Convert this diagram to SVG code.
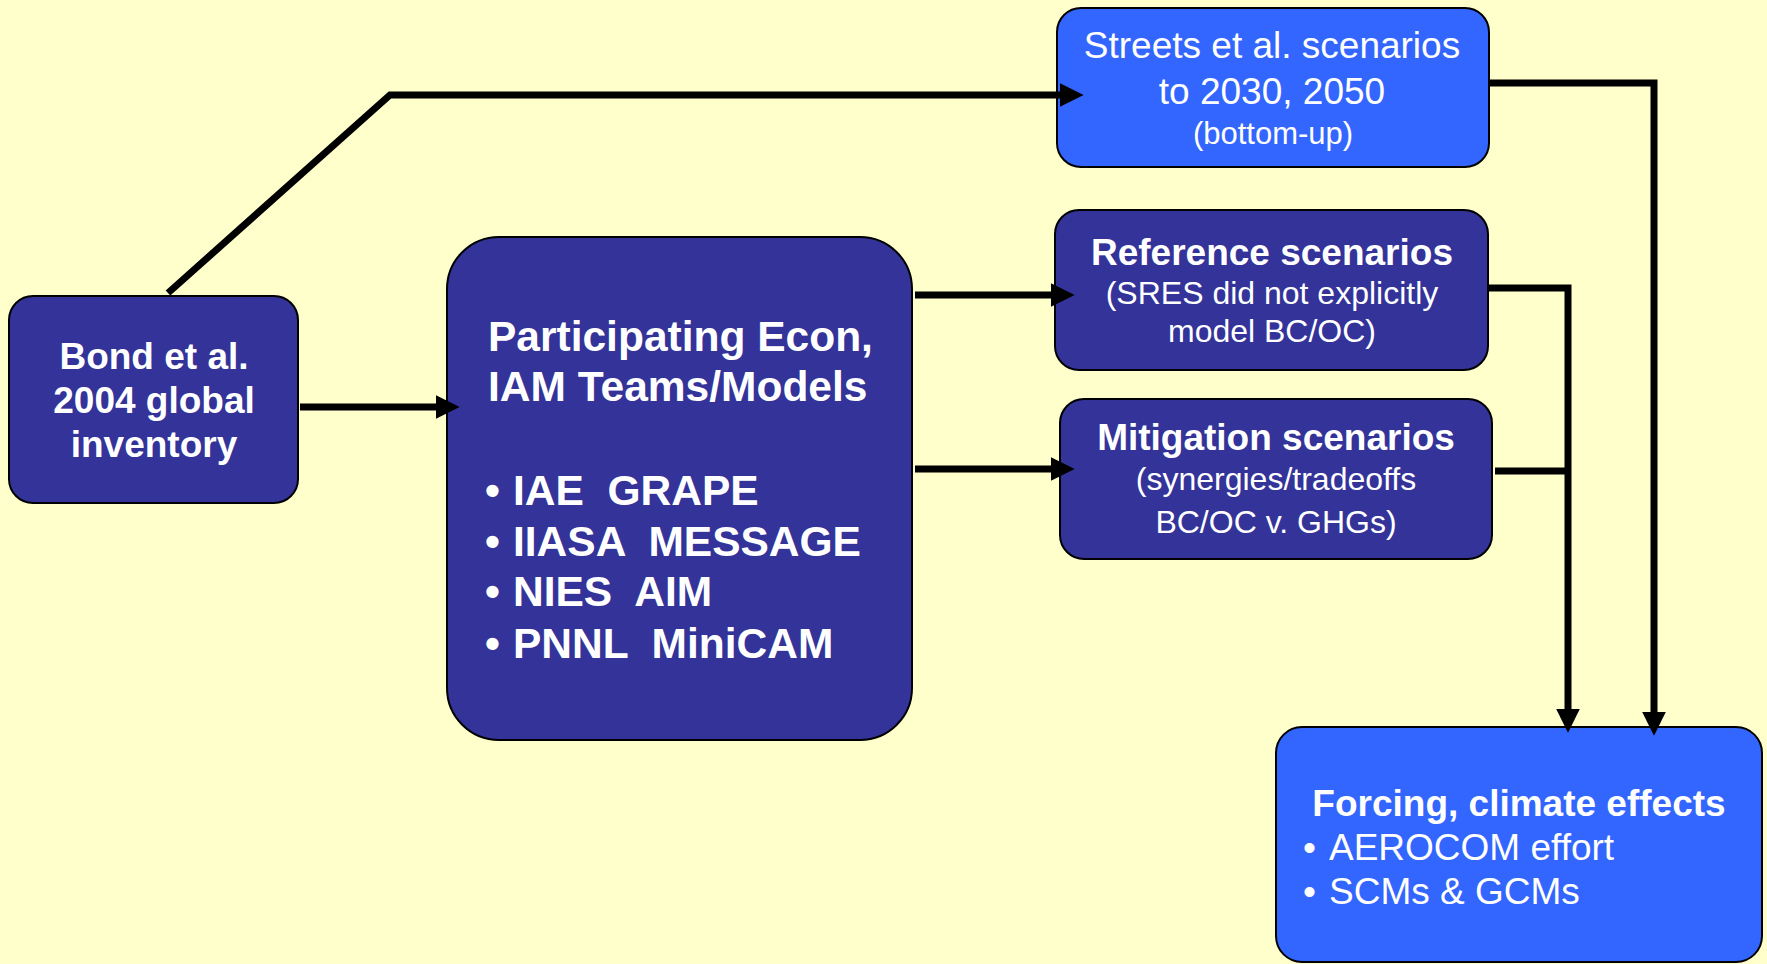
<svg xmlns="http://www.w3.org/2000/svg" width="1767" height="964" viewBox="0 0 1767 964">
<style>
.dark{fill:#333399;stroke:#000;stroke-width:2}
.bright{fill:#3366FF;stroke:#000;stroke-width:2}
text{font-family:"Liberation Sans",Arial,sans-serif;fill:#fff}
.b{font-weight:bold}
.c{text-anchor:middle}
.pre{white-space:pre}
.conn{fill:none;stroke:#000;stroke-width:7;stroke-linejoin:miter;stroke-linecap:butt}
</style>
<defs>
<marker id="ah" markerUnits="userSpaceOnUse" markerWidth="24" markerHeight="24" viewBox="0 0 23 23" refX="8" refY="11.5" orient="auto">
<path d="M0,0 L23,11.5 L0,23 z" fill="#000"/>
</marker>
</defs>
<rect width="1767" height="964" fill="#FFFFCC"/>
<g id="bond">
<rect class="dark" x="9" y="296" width="289" height="207" rx="24"/>
<text class="b c" x="154" y="369" font-size="37">Bond et al.</text>
<text class="b c" x="154" y="413" font-size="37">2004 global</text>
<text class="b c" x="154" y="457" font-size="37">inventory</text>
</g>
<g id="participating">
<rect class="dark" x="447" y="237" width="465" height="503" rx="52"/>
<text class="b" x="488" y="351" font-size="42.5">Participating Econ,</text>
<text class="b" x="488" y="401" font-size="42.5">IAM Teams/Models</text>
<text class="b" x="485" y="505" font-size="42.5">•</text>
<text class="b pre" x="513" y="505" font-size="42.5">IAE  GRAPE</text>
<text class="b" x="485" y="556" font-size="42.5">•</text>
<text class="b pre" x="513" y="556" font-size="42.5">IIASA  MESSAGE</text>
<text class="b" x="485" y="606" font-size="42.5">•</text>
<text class="b pre" x="513" y="606" font-size="42.5">NIES  AIM</text>
<text class="b" x="485" y="658" font-size="42.5">•</text>
<text class="b pre" x="513" y="658" font-size="42.5">PNNL  MiniCAM</text>
</g>
<g id="streets">
<rect class="bright" x="1057" y="8" width="432" height="159" rx="24"/>
<text class="c" x="1272" y="58" font-size="37">Streets et al. scenarios</text>
<text class="c" x="1272" y="104" font-size="37">to 2030, 2050</text>
<text class="c" x="1273" y="144" font-size="31">(bottom-up)</text>
</g>
<g id="reference">
<rect class="dark" x="1055" y="210" width="433" height="160" rx="24"/>
<text class="b c" x="1272" y="265" font-size="37">Reference scenarios</text>
<text class="c" x="1272" y="304" font-size="32">(SRES did not explicitly</text>
<text class="c" x="1272" y="342" font-size="32">model BC/OC)</text>
</g>
<g id="mitigation">
<rect class="dark" x="1060" y="399" width="432" height="160" rx="24"/>
<text class="b c" x="1276" y="450" font-size="37">Mitigation scenarios</text>
<text class="c" x="1276" y="490" font-size="32">(synergies/tradeoffs</text>
<text class="c" x="1276" y="533" font-size="32">BC/OC v. GHGs)</text>
</g>
<g id="forcing">
<rect class="bright" x="1276" y="727" width="486" height="235" rx="26"/>
<text class="b c" x="1519" y="816" font-size="37">Forcing, climate effects</text>
<text x="1303" y="860" font-size="37">•</text>
<text x="1329" y="860" font-size="37">AEROCOM effort</text>
<text x="1303" y="904" font-size="37">•</text>
<text x="1329" y="904" font-size="37">SCMs &amp; GCMs</text>
</g>
<g id="connectors">
<path class="conn" d="M168,293 L390,95 L1068,95" marker-end="url(#ah)"/>
<path class="conn" d="M300,407 L444,407" marker-end="url(#ah)"/>
<path class="conn" d="M915,295 L1059,295" marker-end="url(#ah)"/>
<path class="conn" d="M915,469 L1059,469" marker-end="url(#ah)"/>
<path class="conn" d="M1489,83 L1654,83 L1654,720" marker-end="url(#ah)"/>
<path class="conn" d="M1488,288 L1568,288 L1568,717" marker-end="url(#ah)"/>
<path class="conn" d="M1495,471 L1568,471"/>
</g>
</svg>
